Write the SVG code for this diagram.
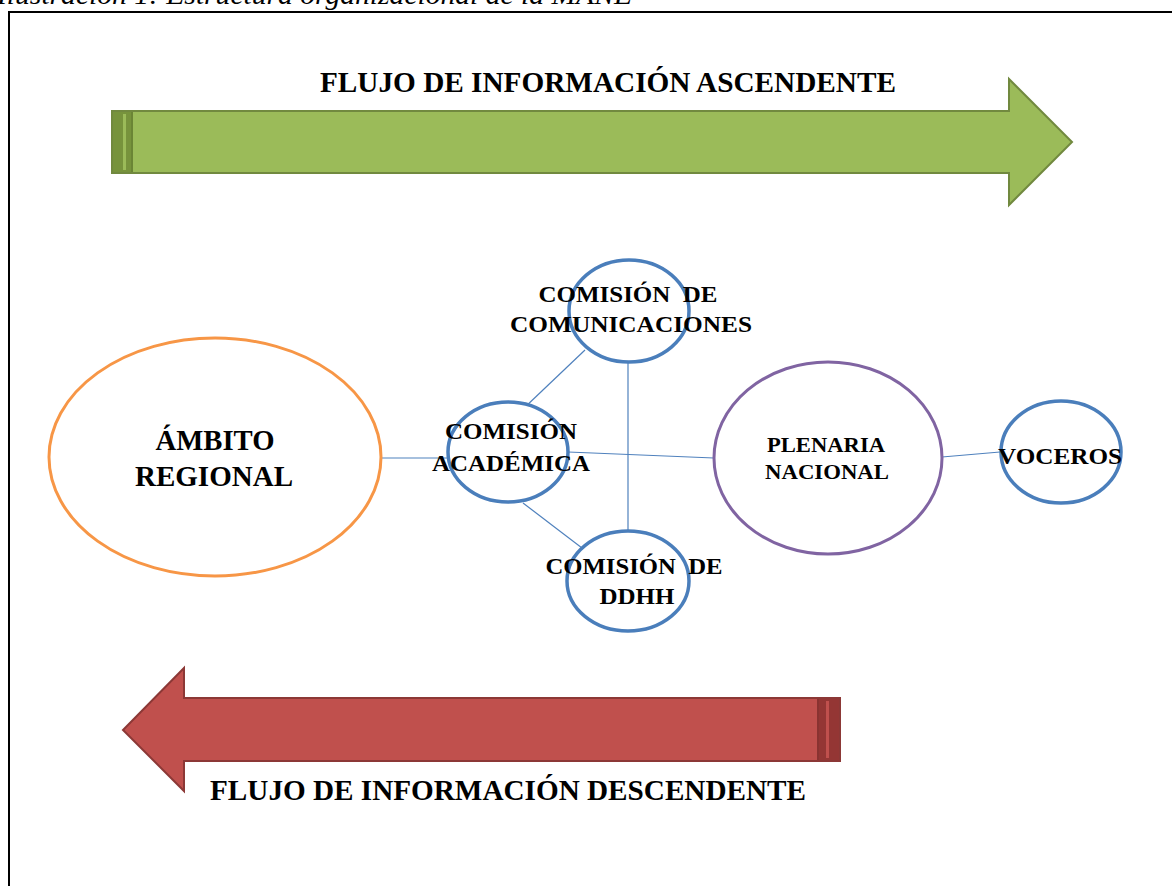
<svg xmlns="http://www.w3.org/2000/svg" width="1172" height="886" viewBox="0 0 1172 886">
<style>
.t{font-family:"Liberation Serif","Times New Roman",serif;font-weight:bold;fill:#000;text-anchor:middle}
.big{font-size:29px}
.md{font-size:23.5px}
.sm{font-size:20px}
.blue{fill:#fff;stroke:#4A7EBB;stroke-width:3.5}
.conn{stroke:#4F81BD;stroke-width:1.2;fill:none}
</style>
<rect x="0" y="0" width="1172" height="886" fill="#fff"/>
<text x="-3" y="4" font-family="Liberation Serif, serif" font-style="italic" font-size="27" textLength="635" lengthAdjust="spacingAndGlyphs">Ilustración 1: Estructura organizacional de la MANE</text>
<rect x="9" y="12" width="1180" height="900" fill="none" stroke="#000" stroke-width="2"/>

<g id="arrow-up">
<polygon points="112,111 1009,111 1009,79 1072,142 1009,205 1009,173 112,173" fill="#9BBB59" stroke="#71893F" stroke-width="2"/>
<rect x="113" y="112" width="19" height="60" fill="#77933C"/>
<rect x="123" y="114" width="3" height="56" fill="#9BBB59"/>
<rect x="131" y="112" width="2" height="60" fill="#6B8535"/>
</g>
<g id="arrow-down">
<polygon points="840,698 184,698 184,668 123,730 184,791 184,761 840,761" fill="#C0504D" stroke="#8C3836" stroke-width="2"/>
<rect x="818" y="699" width="21" height="61" fill="#943634"/>
<rect x="826" y="701" width="3" height="57" fill="#C0504D"/>
<rect x="817" y="699" width="2" height="61" fill="#8A3331"/>
</g>
<text class="t big" x="608" y="92" textLength="576" lengthAdjust="spacingAndGlyphs">FLUJO DE INFORMACIÓN ASCENDENTE</text>
<text class="t big" x="508" y="800" textLength="596" lengthAdjust="spacingAndGlyphs">FLUJO DE INFORMACIÓN DESCENDENTE</text>

<g id="connectors">
<line class="conn" x1="382" y1="458" x2="448" y2="458"/>
<line class="conn" x1="568" y1="452" x2="714" y2="458"/>
<line class="conn" x1="585" y1="350" x2="523" y2="409"/>
<line class="conn" x1="523" y1="503" x2="582" y2="548"/>
<line class="conn" x1="628" y1="362" x2="628" y2="531"/>
<line class="conn" x1="942" y1="457" x2="1000" y2="452"/>
</g>

<g id="ambito">
<ellipse cx="215" cy="457" rx="166" ry="119" fill="#fff" stroke="#F79646" stroke-width="3"/>
<text class="t big" x="215" y="450" textLength="119" lengthAdjust="spacingAndGlyphs">ÁMBITO</text>
<text class="t big" x="214" y="486" textLength="158" lengthAdjust="spacingAndGlyphs">REGIONAL</text>
</g>
<g id="comunicaciones">
<ellipse class="blue" cx="629" cy="311" rx="60" ry="51"/>
<text class="t md" x="628" y="302" textLength="179" lengthAdjust="spacingAndGlyphs" xml:space="preserve">COMISIÓN  DE</text>
<text class="t md" x="631" y="332" textLength="242" lengthAdjust="spacingAndGlyphs">COMUNICACIONES</text>
</g>
<g id="academica">
<ellipse class="blue" cx="508" cy="452" rx="60" ry="50"/>
<text class="t md" x="511" y="439" textLength="132" lengthAdjust="spacingAndGlyphs">COMISIÓN</text>
<text class="t md" x="511" y="471" textLength="158" lengthAdjust="spacingAndGlyphs">ACADÉMICA</text>
</g>
<g id="ddhh">
<ellipse class="blue" cx="628" cy="581" rx="61" ry="50"/>
<text class="t md" x="634" y="574" textLength="177" lengthAdjust="spacingAndGlyphs" xml:space="preserve">COMISIÓN  DE</text>
<text class="t md" x="637" y="604" textLength="75" lengthAdjust="spacingAndGlyphs">DDHH</text>
</g>
<g id="plenaria">
<ellipse cx="828" cy="458" rx="114" ry="96" fill="#fff" stroke="#8064A2" stroke-width="3"/>
<text class="t sm" x="826" y="452" textLength="118" lengthAdjust="spacingAndGlyphs">PLENARIA</text>
<text class="t sm" x="827" y="479" textLength="124" lengthAdjust="spacingAndGlyphs">NACIONAL</text>
</g>
<g id="voceros">
<ellipse class="blue" cx="1061" cy="452" rx="60" ry="51"/>
<text class="t md" x="1060" y="464" textLength="124" lengthAdjust="spacingAndGlyphs">VOCEROS</text>
</g>
</svg>
